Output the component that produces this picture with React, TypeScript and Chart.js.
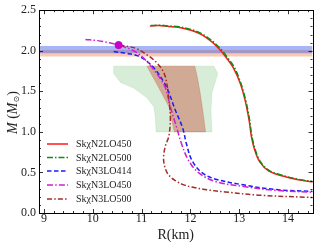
import React, { useEffect, useRef } from 'react';
import { Chart, registerables } from 'chart.js';

Chart.register(...registerables);

// ---------- data ----------
const SERIES_LABELS = ['SkχN2LO450', 'SkχN2LO500', 'SkχN3LO414', 'SkχN3LO450', 'SkχN3LO500'];

const N2LO450_R = [11.17, 11.35, 11.55, 11.75, 12.03, 12.23, 12.44, 12.61, 12.74, 12.88, 13.02, 13.12, 13.2, 13.25, 13.32, 13.42, 13.6, 13.87, 14.21, 14.55];
const N2LO450_M = [2.305, 2.31, 2.3, 2.29, 2.25, 2.2, 2.11, 2.01, 1.91, 1.79, 1.6, 1.39, 1.15, 0.94, 0.77, 0.63, 0.52, 0.46, 0.41, 0.38];

const N2LO500_R = [11.19, 11.37, 11.57, 11.77, 12.05, 12.25, 12.46, 12.63, 12.76, 12.9, 13.03, 13.13, 13.21, 13.26, 13.33, 13.43, 13.61, 13.88, 14.22, 14.55];
const N2LO500_M = [2.31, 2.315, 2.305, 2.295, 2.255, 2.205, 2.115, 2.015, 1.915, 1.795, 1.605, 1.395, 1.155, 0.945, 0.775, 0.635, 0.525, 0.465, 0.415, 0.385];

const N3LO414_R = [10.43, 10.67, 10.91, 11.11, 11.28, 11.45, 11.55, 11.69, 11.84, 11.92, 12.03, 12.23, 12.5, 13.05, 13.73, 14.55];
const N3LO414_M = [1.99, 1.97, 1.94, 1.87, 1.77, 1.62, 1.5, 1.27, 1.05, 0.85, 0.65, 0.5, 0.42, 0.35, 0.29, 0.265];

const N3LO450_R = [9.85, 10.1, 10.33, 10.53, 10.84, 11.04, 11.22, 11.39, 11.49, 11.59, 11.72, 11.82, 11.96, 12.16, 12.5, 13.05, 13.73, 14.55];
const N3LO450_M = [2.14, 2.125, 2.1, 2.07, 2.0, 1.91, 1.79, 1.65, 1.54, 1.31, 1.05, 0.85, 0.65, 0.5, 0.39, 0.33, 0.28, 0.255];

const N3LO500_R = [10.55, 10.88, 11.11, 11.28, 11.42, 11.5, 11.55, 11.59, 11.56, 11.49, 11.45, 11.47, 11.52, 11.6, 11.69, 11.85, 12.03, 12.35, 12.71, 13.39, 14.55];
const N3LO500_M = [2.07, 2.03, 1.95, 1.87, 1.77, 1.65, 1.44, 1.19, 0.95, 0.83, 0.69, 0.58, 0.5, 0.44, 0.4, 0.35, 0.32, 0.285, 0.26, 0.22, 0.19];

const MARKER_R = [10.53];
const MARKER_M = [2.07];

const GREEN_REGION_R = [10.43, 12.48, 12.56, 12.51, 12.44, 12.42, 12.44, 11.3, 11.28, 11.25, 11.11, 10.84, 10.57, 10.43, 10.43];
const GREEN_REGION_M = [1.81, 1.81, 1.72, 1.62, 1.48, 1.25, 1.0, 1.0, 1.19, 1.31, 1.42, 1.54, 1.61, 1.72, 1.81];

const BROWN_REGION_R = [11.11, 12.09, 12.14, 12.2, 12.27, 12.31, 11.67, 11.56, 11.32, 11.11];
const BROWN_REGION_M = [1.81, 1.81, 1.68, 1.48, 1.19, 1.0, 1.0, 1.31, 1.58, 1.81];

const BLUE_BAND = [1.97, 2.06];
const ORANGE_BAND = [1.93, 2.01];

const X_MIN = 8.9;
const X_MAX = 14.5;
const Y_MIN = 0;
const Y_MAX = 2.5;
const X_TICKS = [9, 10, 11, 12, 13, 14];
const Y_TICKS = [0, 0.5, 1.0, 1.5, 2.0, 2.5];

// ---------- helpers ----------
const zip = (r: number[], m: number[]) => r.map((v, i) => ({ x: v, y: m[i] }));
const band = (b: number[]) => [
  { x: X_MIN, y: b[0] },
  { x: X_MAX, y: b[0] },
  { x: X_MAX, y: b[1] },
  { x: X_MIN, y: b[1] },
  { x: X_MIN, y: b[0] },
];

const SERIF = '"Liberation Serif", "DejaVu Serif", serif';

const STYLES = [
  { color: '#ff1a1a', dash: [] as number[] },
  { color: '#138a13', dash: [6, 2, 1.5, 2] },
  { color: '#1a1aff', dash: [4.5, 2.5] },
  { color: '#d21ed2', dash: [6, 2.2, 1.5, 2.2] },
  { color: '#a52a2a', dash: [5, 2.2, 1.5, 2.2] },
];

const decorPlugin = {
  id: 'decor',
  afterDraw(chart: any) {
    const { ctx, chartArea: a, scales } = chart;
    const xs = scales.x;
    const ys = scales.y;
    ctx.save();
    // ticks (inward, all sides)
    ctx.strokeStyle = '#000';
    ctx.lineWidth = 0.8;
    ctx.beginPath();
    for (let i = 45; i <= 72; i++) {
      const v = i / 5;
      if (v < X_MIN || v > X_MAX) continue;
      const px = Math.round(xs.getPixelForValue(v)) + 0.5;
      const len = i % 5 === 0 ? 4 : 2;
      ctx.moveTo(px, a.bottom);
      ctx.lineTo(px, a.bottom - len);
      ctx.moveTo(px, a.top);
      ctx.lineTo(px, a.top + len);
    }
    for (let i = 0; i <= 25; i++) {
      const v = i / 10;
      const py = Math.round(ys.getPixelForValue(v)) + 0.5;
      const len = i % 5 === 0 ? 4 : 2;
      ctx.moveTo(a.left, py);
      ctx.lineTo(a.left + len, py);
      ctx.moveTo(a.right, py);
      ctx.lineTo(a.right - len, py);
    }
    ctx.stroke();
    // frame
    ctx.lineWidth = 1;
    ctx.strokeRect(Math.round(a.left) + 0.5, Math.round(a.top) + 0.5, Math.round(a.right - a.left), Math.round(a.bottom - a.top));

    // legend
    const lx0 = 47;
    const lx1 = 68;
    const tx = 76;
    const rows = [144, 157.5, 171, 185, 199];
    ctx.font = `10px ${SERIF}`;
    ctx.textBaseline = 'middle';
    ctx.textAlign = 'left';
    SERIES_LABELS.forEach((lab, i) => {
      const st = STYLES[i];
      ctx.beginPath();
      ctx.setLineDash(st.dash);
      ctx.strokeStyle = st.color;
      ctx.lineWidth = 1.5;
      ctx.moveTo(lx0, rows[i]);
      ctx.lineTo(lx1, rows[i]);
      ctx.stroke();
      ctx.setLineDash([]);
      ctx.fillStyle = '#222';
      ctx.fillText(lab, tx, rows[i] + 0.5);
    });

    // x title
    ctx.fillStyle = '#222';
    ctx.font = `14px ${SERIF}`;
    ctx.textAlign = 'center';
    ctx.textBaseline = 'middle';
    ctx.fillText('R(km)', (a.left + a.right) / 2, 235);

    // y title
    ctx.save();
    ctx.translate(13, (a.top + a.bottom) / 2 + 1);
    ctx.rotate(-Math.PI / 2);
    const parts = [
      { t: 'M', f: `italic 14px ${SERIF}`, dy: 0 },
      { t: ' (', f: `14px ${SERIF}`, dy: 0 },
      { t: 'M', f: `italic 14px ${SERIF}`, dy: 0 },
      { t: '⊙', f: '8px "DejaVu Sans"', dy: 3.5 },
      { t: ')', f: `14px ${SERIF}`, dy: 0 },
    ];
    let total = 0;
    parts.forEach((p) => {
      ctx.font = p.f;
      total += ctx.measureText(p.t).width;
    });
    let cx = -total / 2;
    ctx.textAlign = 'left';
    parts.forEach((p) => {
      ctx.font = p.f;
      ctx.fillText(p.t, cx, p.dy);
      cx += ctx.measureText(p.t).width;
    });
    ctx.restore();
    ctx.restore();
  },
};

export default function App() {
  const ref = useRef<HTMLCanvasElement | null>(null);
  useEffect(() => {
    document.body.style.margin = '0';
    const canvas = ref.current;
    if (!canvas) return;
    const series = [
      [N2LO450_R, N2LO450_M],
      [N2LO500_R, N2LO500_M],
      [N3LO414_R, N3LO414_M],
      [N3LO450_R, N3LO450_M],
      [N3LO500_R, N3LO500_M],
    ];
    const curveDatasets = series.map((s, i) => ({
      label: SERIES_LABELS[i],
      data: zip(s[0], s[1]),
      showLine: true,
      borderColor: STYLES[i].color,
      borderDash: STYLES[i].dash,
      borderWidth: 1.5,
      pointRadius: 0,
      tension: 0.35,
      fill: false,
      order: i === 1 ? 1 : 2 + (4 - i) * 0.1,
    }));
    const chart = new Chart(canvas, {
      type: 'scatter',
      data: {
        datasets: [
          {
            label: 'marker',
            data: zip(MARKER_R, MARKER_M),
            pointRadius: 3.6,
            pointBackgroundColor: '#c800c8',
            pointBorderColor: '#c800c8',
            showLine: false,
            order: 0,
          },
          ...curveDatasets,
          {
            label: 'brown region',
            data: zip(BROWN_REGION_R, BROWN_REGION_M),
            showLine: true,
            fill: 'shape',
            backgroundColor: 'rgba(195,70,45,0.4)',
            borderColor: 'rgba(195,70,45,0.25)',
            borderWidth: 1,
            pointRadius: 0,
            tension: 0,
            order: 20,
          },
          {
            label: 'green region',
            data: zip(GREEN_REGION_R, GREEN_REGION_M),
            showLine: true,
            fill: 'shape',
            backgroundColor: 'rgba(60,165,60,0.2)',
            borderColor: 'rgba(60,165,60,0.12)',
            borderWidth: 1,
            pointRadius: 0,
            tension: 0,
            order: 21,
          },
          {
            label: 'blue band',
            data: band(BLUE_BAND),
            showLine: true,
            fill: 'shape',
            backgroundColor: 'rgba(60,90,230,0.45)',
            borderColor: 'rgba(60,90,230,0.0)',
            borderWidth: 0,
            pointRadius: 0,
            tension: 0,
            order: 22,
          },
          {
            label: 'orange band',
            data: band(ORANGE_BAND),
            showLine: true,
            fill: 'shape',
            backgroundColor: 'rgba(240,120,60,0.4)',
            borderColor: 'rgba(240,120,60,0.0)',
            borderWidth: 0,
            pointRadius: 0,
            tension: 0,
            order: 23,
          },
        ],
      },
      options: {
        responsive: false,
        animation: false,
        maintainAspectRatio: false,
        layout: { padding: { top: 10, right: 5.5, left: 0, bottom: 0 } },
        plugins: {
          legend: { display: false },
          tooltip: { enabled: false },
        },
        scales: {
          x: {
            type: 'linear',
            min: X_MIN,
            max: X_MAX,
            grid: { display: false, drawTicks: false, tickLength: 0 },
            border: { display: false },
            afterBuildTicks: (s: any) => {
              s.ticks = X_TICKS.map((v) => ({ value: v }));
            },
            afterFit: (s: any) => {
              s.height = 35;
            },
            ticks: {
              font: { family: SERIF, size: 12 },
              color: '#222',
              padding: -1,
              maxRotation: 0,
              callback: (v: any) => String(v),
            },
          },
          y: {
            type: 'linear',
            min: Y_MIN,
            max: Y_MAX,
            grid: { display: false, drawTicks: false, tickLength: 0 },
            border: { display: false },
            afterBuildTicks: (s: any) => {
              s.ticks = Y_TICKS.map((v) => ({ value: v }));
            },
            afterFit: (s: any) => {
              s.width = 39;
            },
            ticks: {
              font: { family: SERIF, size: 12 },
              color: '#222',
              padding: 3,
              callback: (v: any) => Number(v).toFixed(1),
            },
          },
        },
      },
      plugins: [decorPlugin],
    } as any);
    return () => chart.destroy();
  }, []);
  return <canvas ref={ref} width={318} height={248} style={{ display: 'block', width: 318, height: 248 }} />;
}
